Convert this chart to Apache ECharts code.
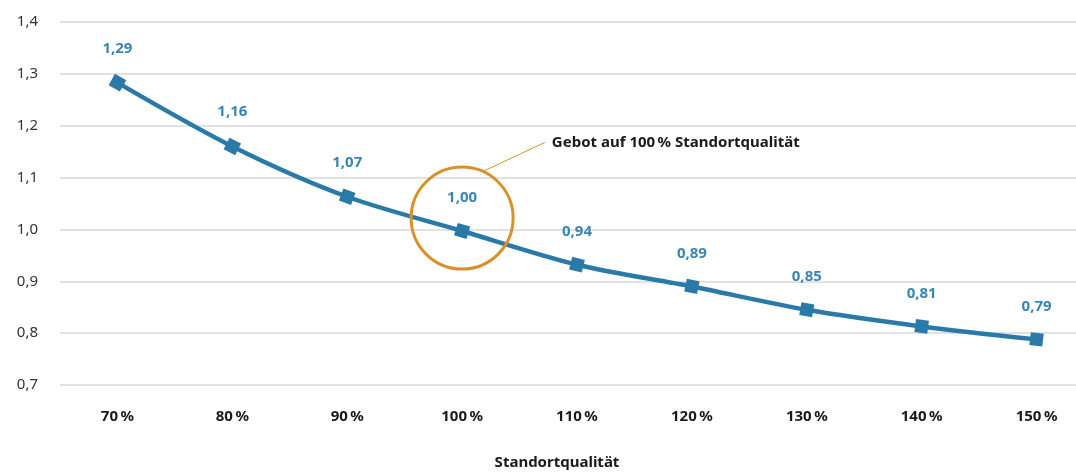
<!DOCTYPE html>
<html><head><meta charset="utf-8">
<script src="https://cdn.jsdelivr.net/npm/echarts@6/dist/echarts.min.js"></script>
<style>html,body{margin:0;padding:0;background:#fff;overflow:hidden;width:1076px;height:475px}#c{width:1094px;height:475px}</style>
</head><body><div id="c"></div>
<script>
const categories = ['70%','80%','90%','100%','110%','120%','130%','140%','150%'];
const values = [1.283, 1.160, 1.063, 0.997, 0.932, 0.890, 0.845, 0.813, 0.788];
const valueLabels = ['1,29','1,16','1,07','1,00','0,94','0,89','0,85','0,81','0,79'];
const yMin = 0.7, yMax = 1.4, yStep = 0.1;
const annotationText = 'Gebot auf 100\u202F% Standortqualität';
const annotationIndex = 3;

const FONT = '"Noto Sans", "Open Sans", sans-serif';
const BLUE = '#2a7aa8';
const ORANGE = '#d8912a';

const chart = echarts.init(document.getElementById('c'), null, {renderer: 'canvas'});
const pxPerUnit = (475 - 22 - 85) / (yMax - yMin);
function slopeAngle(i) {
  const a = Math.max(0, i - 1), b = Math.min(values.length - 1, i + 1);
  const dy = (values[a] - values[b]) * pxPerUnit;
  const dx = (b - a) * 115;
  return Math.atan2(dy, dx) * 180 / Math.PI;
}
chart.setOption({
  animation: false,
  grid: {left: 60, right: 0, top: 22, bottom: 85},
  xAxis: {
    type: 'category', data: categories.map(c => c.replace('%', '\u202F%')), boundaryGap: true,
    axisLine: {show: false}, axisTick: {show: false},
    axisLabel: {margin: 24, fontFamily: FONT, fontSize: 15, fontWeight: 'bold', color: '#1a1a1a'},
    name: 'Standortqualität', nameLocation: 'middle', nameGap: 70,
    nameTextStyle: {fontFamily: FONT, fontSize: 15, fontWeight: 'bold', color: '#1a1a1a', padding: [0, 40, 0, 0]}
  },
  yAxis: {
    type: 'value', min: yMin, max: yMax, interval: yStep,
    axisLine: {show: false}, axisTick: {show: false},
    splitLine: {lineStyle: {color: '#d9d9d9', width: 1.5}},
    axisLabel: {margin: 22, fontFamily: FONT, fontSize: 15, color: '#333',
      formatter: v => v.toFixed(1).replace('.', ',')}
  },
  series: [{
    type: 'line', data: values, smooth: 0.3,
    lineStyle: {color: BLUE, width: 4.5},
    itemStyle: {color: BLUE},
    symbol: 'rect', symbolSize: 13,
    symbolRotate: (v, p) => -slopeAngle(p.dataIndex),
    label: {show: true, position: 'top', distance: 18, fontFamily: FONT, fontSize: 15, fontWeight: 'bold', color: '#3a86b3',
      formatter: p => valueLabels[p.dataIndex]},
    markPoint: {
      silent: true,
      data: [{coord: [annotationIndex, values[annotationIndex] + 0.025], symbol: 'circle', symbolSize: 102,
        itemStyle: {color: 'rgba(0,0,0,0)', borderColor: ORANGE, borderWidth: 3}, label: {show: false}}]
    },
    z: 3
  }]
});
const c = chart.convertToPixel({xAxisIndex: 0, yAxisIndex: 0}, [annotationIndex, values[annotationIndex] + 0.025]);
const r = 51;
const sx = c[0] + r * Math.cos(-66 * Math.PI / 180), sy = c[1] + r * Math.sin(-66 * Math.PI / 180);
chart.setOption({
  graphic: [
    {type: 'line', shape: {x1: sx, y1: sy, x2: sx + 62, y2: sy - 29}, style: {stroke: ORANGE, lineWidth: 1}},
    {type: 'text', x: sx + 69, y: sy - 29, style: {text: annotationText, font: 'bold 15px ' + FONT, fill: '#1a1a1a', textVerticalAlign: 'middle'}}
  ]
});
</script></body></html>
